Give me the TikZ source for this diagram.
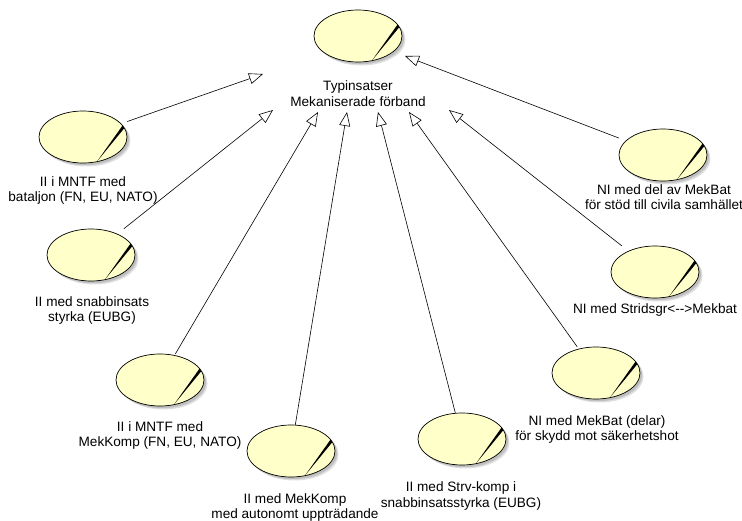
\documentclass[tikz,border=0pt]{standalone}
\usepackage{fontspec}
\setmainfont{Liberation Sans}
\usetikzlibrary{arrows.meta}
\definecolor{ucyellow}{RGB}{255,255,202}
\definecolor{ucshadow}{RGB}{175,175,175}
\tikzset{
  uc/.style={rectangle, draw=none, minimum width=88pt, minimum height=52pt, inner sep=0pt},
  lbl/.style={align=center, inner sep=0pt, font=\fontsize{13.6}{15.5}\selectfont},
  gen/.style={line width=0.6pt, -{Triangle[fill=white, length=14pt, width=11pt, line width=0.6pt]}},
}
\begin{document}
\begin{tikzpicture}[x=1pt, y=-1pt]
\useasboundingbox (0,0) rectangle (742,521);
% use-case nodes
\node[uc] (top) at (358,36) {};
\node[uc] (l1) at (83,137) {};
\node[uc] (l2) at (91,255) {};
\node[uc] (l3) at (160,380) {};
\node[uc] (b1) at (291,451) {};
\node[uc] (b2) at (462,439) {};
\node[uc] (rb) at (596,373) {};
\node[uc] (rm) at (655,272) {};
\node[uc] (rt) at (663,155) {};
\foreach \n in {top,l1,l2,l3,b1,b2,rb,rm,rt}{
  \fill[ucshadow!40] ([shift={(3.5,3.5)}]\n.center) ellipse (44 and 26);
  \fill[ucshadow!80] ([shift={(2.2,2.2)}]\n.center) ellipse (44 and 26);
  \fill[ucyellow] (\n.center) ellipse (44 and 26);
  \begin{scope}
    \clip (\n.center) ellipse (44 and 26);
    \fill[black] ([shift={(14,24.5)}]\n.center) -- ([shift={(40.3,-12.5)}]\n.center) -- ([shift={(42.6,-10.4)}]\n.center) -- cycle;
  \end{scope}
  \draw[line width=0.7pt] (\n.center) ellipse (44 and 26);
}
% labels
\node[lbl] (ttop) at (358,93.5) {Typinsatser\\Mekaniserade förband};
\node[lbl] (tl1) at (83,190.5) {II i MNTF med\\bataljon (FN, EU, NATO)};
\node[lbl] (tl2) at (92,310.5) {II med snabbinsats\\styrka (EUBG)};
\node[lbl] (tl3) at (160,435.5) {II i MNTF med\\MekKomp (FN, EU, NATO)};
\node[lbl] (tb1) at (295,507.5) {II med MekKomp\\med autonomt uppträdande};
\node[lbl] (tb2) at (461,496) {II med Strv-komp i\\snabbinsatsstyrka (EUBG)};
\node[lbl] (trb) at (597,429.5) {NI med MekBat (delar)\\för skydd mot säkerhetshot};
\node[lbl] (trm) at (655,310) {NI med Stridsgr<{-}{-}>Mekbat};
\node[lbl] (trt) at (664,197) {NI med del av MekBat\\för stöd till civila samhället};
% arrow tip coordinates
\coordinate (a1) at (263,74);
\coordinate (a2) at (273,110);
\coordinate (a3) at (318,112);
\coordinate (a4) at (347,112);
\coordinate (a5) at (378,112);
\coordinate (a6) at (409,112);
\coordinate (a7) at (449,110);
\coordinate (a8) at (405,56);
% generalizations
\draw[gen] (l1) -- (a1);
\draw[gen] (l2) -- (a2);
\draw[gen] (l3) -- (a3);
\draw[gen] (b1) -- (a4);
\draw[gen] (b2) -- (a5);
\draw[gen] (rb) -- (a6);
\draw[gen] (rm) -- (a7);
\draw[gen] (rt) -- (a8);
\end{tikzpicture}
\end{document}
